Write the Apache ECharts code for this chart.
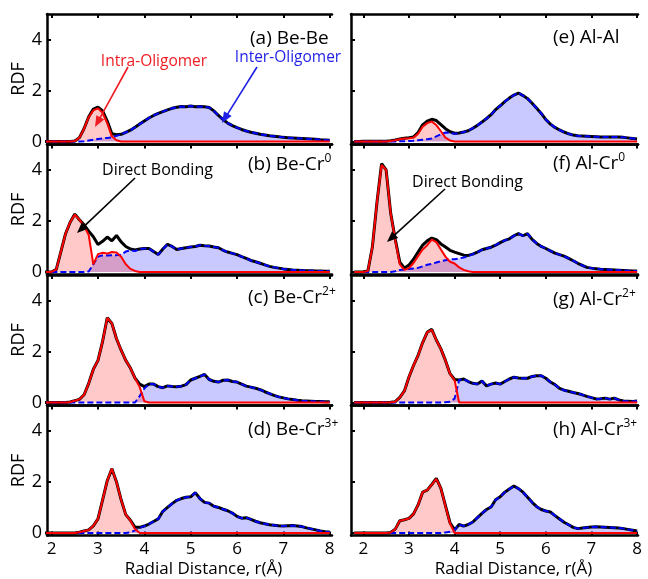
<!DOCTYPE html>
<html><head><meta charset="utf-8">
<script src="https://cdn.jsdelivr.net/npm/echarts@6/dist/echarts.min.js"></script>
<style>html,body{margin:0;padding:0;background:#fff}#c{width:648px;height:579px}</style>
</head><body><div id="c"></div>
<script>
// radial distance grid (Å)
const r = [1.8,1.9,2.0,2.1,2.2,2.3,2.4,2.5,2.6,2.7,
 2.8,2.9,3.0,3.1,3.2,3.3,3.4,3.5,3.6,3.7,
 3.8,3.9,4.0,4.1,4.2,4.3,4.4,4.5,4.6,4.7,
 4.8,4.9,5.0,5.1,5.2,5.3,5.4,5.5,5.6,5.7,
 5.8,5.9,6.0,6.1,6.2,6.3,6.4,6.5,6.6,6.7,
 6.8,6.9,7.0,7.1,7.2,7.3,7.4,7.5,7.6,7.7,
 7.8,7.9,8.0];
const xTicks = [2,3,4,5,6,7,8];
const yTicks = [0,2,4];
const titles = ['(a) Be-Be','(b) Be-Cr','(c) Be-Cr','(d) Be-Cr','(e) Al-Al','(f) Al-Cr','(g) Al-Cr','(h) Al-Cr'];
const sups = ['','0','2+','3+','','0','2+','3+'];

// (a) Be-Be
const intraA = [0,0,0,0,0,0,0,0.02,0.15,0.5,
 0.95,1.22,1.3,1.12,0.72,0.2,0.05,0,0,0,
 0,0,0,0,0,0,0,0,0,0, 0,0,0,0,0,0,0,0,0,0, 0,0,0,0,0,0,0,0,0,0, 0,0,0,0,0,0,0,0,0,0, 0,0,0];
const interA = [0,0,0,0,0,0,0,0,0,0.01,
 0.04,0.07,0.1,0.12,0.14,0.16,0.22,0.28,0.36,0.44,
 0.56,0.68,0.8,0.92,1.02,1.1,1.17,1.24,1.3,1.34,
 1.37,1.36,1.39,1.36,1.37,1.36,1.33,1.2,1.02,0.86,
 0.72,0.62,0.54,0.47,0.41,0.36,0.32,0.28,0.25,0.22,
 0.2,0.18,0.16,0.15,0.14,0.13,0.12,0.11,0.1,0.09,
 0.07,0.06,0.05];
const totalA = [0,0,0,0,0,0,0,0.02,0.15,0.51,
 0.97,1.27,1.35,1.2,0.8,0.3,0.26,0.28,0.36,0.44,
 0.56,0.68,0.8,0.92,1.02,1.1,1.17,1.24,1.3,1.34,
 1.37,1.36,1.39,1.36,1.37,1.36,1.33,1.2,1.02,0.86,
 0.72,0.62,0.54,0.47,0.41,0.36,0.32,0.28,0.25,0.22,
 0.2,0.18,0.16,0.15,0.14,0.13,0.12,0.11,0.1,0.09,
 0.07,0.06,0.05];

// (b) Be-Cr0
const intraB = [0,0,0,0.1,0.8,1.5,1.95,2.25,2.05,1.8,
 1.45,0.3,0.7,0.75,0.72,0.78,0.76,0.6,0.3,0.12,
 0.04,0,0,0,0,0,0,0,0,0, 0,0,0,0,0,0,0,0,0,0, 0,0,0,0,0,0,0,0,0,0, 0,0,0,0,0,0,0,0,0,0, 0,0,0];
const interB = [0,0,0,0,0,0,0,0,0,0,
 0.02,0.3,0.6,0.65,0.65,0.66,0.66,0.68,0.8,0.85,
 0.82,0.9,0.92,0.92,0.8,0.68,0.9,1.08,1.0,0.88,
 0.92,0.95,0.98,1.0,1.05,1.03,1.02,0.98,0.95,0.85,
 0.78,0.73,0.68,0.6,0.53,0.45,0.4,0.34,0.28,0.22,
 0.18,0.15,0.12,0.1,0.08,0.07,0.06,0.05,0.05,0.04,
 0.04,0.03,0.03];
const totalB = [0,0,0,0.1,0.8,1.5,1.95,2.27,2.05,1.85,
 1.6,1.38,1.08,1.2,1.37,1.22,1.43,1.18,1.0,0.9,
 0.86,0.9,0.92,0.92,0.8,0.68,0.9,1.08,1.0,0.88,
 0.92,0.95,0.98,1.0,1.05,1.03,1.02,0.98,0.95,0.85,
 0.78,0.73,0.68,0.6,0.53,0.45,0.4,0.34,0.28,0.22,
 0.18,0.15,0.12,0.1,0.08,0.07,0.06,0.05,0.05,0.04,
 0.04,0.03,0.03];

// (c) Be-Cr2+
const intraC = [0,0,0,0,0,0,0.02,0.07,0.12,0.3,
 0.75,1.3,1.65,2.4,3.32,3.1,2.5,2.05,1.65,1.35,
 0.95,0.6,0.05,0,0,0,0,0,0,0, 0,0,0,0,0,0,0,0,0,0, 0,0,0,0,0,0,0,0,0,0, 0,0,0,0,0,0,0,0,0,0, 0,0,0];
const interC = [0,0,0,0,0,0,0,0,0,0,
 0,0,0,0,0,0,0,0,0,0,
 0,0.25,0.55,0.72,0.72,0.62,0.58,0.65,0.63,0.62,
 0.64,0.7,0.88,0.95,1.02,1.1,0.9,0.83,0.8,0.87,
 0.88,0.82,0.8,0.72,0.64,0.6,0.56,0.5,0.42,0.35,
 0.28,0.22,0.18,0.14,0.12,0.09,0.07,0.06,0.05,0.04,
 0.04,0.03,0.03];
const totalC = [0,0,0,0,0,0,0.02,0.07,0.12,0.3,
 0.75,1.3,1.65,2.4,3.32,3.1,2.5,2.05,1.65,1.35,
 0.95,0.72,0.62,0.72,0.72,0.62,0.58,0.65,0.63,0.62,
 0.64,0.7,0.88,0.95,1.02,1.1,0.9,0.83,0.8,0.87,
 0.88,0.82,0.8,0.72,0.64,0.6,0.56,0.5,0.42,0.35,
 0.28,0.22,0.18,0.14,0.12,0.09,0.07,0.06,0.05,0.04,
 0.04,0.03,0.03];

// (d) Be-Cr3+
const intraD = [0,0,0,0,0,0,0,0,0.03,0.08,
 0.12,0.28,0.55,1.3,2.05,2.52,2.0,1.3,0.72,0.48,
 0.15,0,0,0,0,0,0,0,0,0, 0,0,0,0,0,0,0,0,0,0, 0,0,0,0,0,0,0,0,0,0, 0,0,0,0,0,0,0,0,0,0, 0,0,0];
const interD = [0,0,0,0,0,0,0,0,0,0,
 0,0,0,0,0,0,0,0,0,0.02,
 0.1,0.2,0.27,0.35,0.45,0.55,0.85,1.0,1.15,1.28,
 1.35,1.4,1.42,1.58,1.35,1.2,1.17,1.05,1.0,0.93,
 0.87,0.78,0.65,0.58,0.6,0.53,0.46,0.4,0.36,0.32,
 0.3,0.28,0.27,0.28,0.29,0.27,0.25,0.2,0.16,0.12,
 0.08,0.05,0.04];
const totalD = [0,0,0,0,0,0,0,0,0.03,0.08,
 0.12,0.28,0.55,1.3,2.05,2.52,2.0,1.3,0.72,0.5,
 0.22,0.22,0.27,0.35,0.45,0.55,0.85,1.0,1.15,1.28,
 1.35,1.4,1.42,1.58,1.35,1.2,1.17,1.05,1.0,0.93,
 0.87,0.78,0.65,0.58,0.6,0.53,0.46,0.4,0.36,0.32,
 0.3,0.28,0.27,0.28,0.29,0.27,0.25,0.2,0.16,0.12,
 0.08,0.05,0.04];

// (e) Al-Al
const intraE = [0,0,0,0,0,0,0,0,0.02,0.05,
 0.09,0.12,0.13,0.15,0.3,0.58,0.72,0.78,0.64,0.4,
 0.15,0.04,0,0,0,0,0,0,0,0, 0,0,0,0,0,0,0,0,0,0, 0,0,0,0,0,0,0,0,0,0, 0,0,0,0,0,0,0,0,0,0, 0,0,0];
const interE = [0,0,0,0,0,0,0,0,0,0,
 0.01,0.01,0.02,0.03,0.05,0.07,0.09,0.12,0.2,0.28,
 0.35,0.34,0.3,0.32,0.37,0.42,0.52,0.63,0.76,0.9,
 1.05,1.25,1.4,1.56,1.7,1.82,1.9,1.8,1.68,1.5,
 1.3,1.1,0.86,0.68,0.55,0.45,0.37,0.3,0.25,0.22,
 0.21,0.2,0.19,0.18,0.17,0.17,0.17,0.17,0.17,0.16,
 0.14,0.12,0.1];
const totalE = [0,0,0.01,0.01,0.01,0.01,0.01,0.01,0.03,0.06,
 0.1,0.13,0.15,0.18,0.35,0.65,0.8,0.87,0.82,0.66,
 0.5,0.38,0.32,0.33,0.37,0.42,0.52,0.63,0.76,0.9,
 1.05,1.25,1.4,1.56,1.7,1.82,1.9,1.8,1.68,1.5,
 1.3,1.1,0.86,0.68,0.55,0.45,0.37,0.3,0.25,0.22,
 0.21,0.2,0.19,0.18,0.17,0.17,0.17,0.17,0.17,0.16,
 0.14,0.12,0.1];

// (f) Al-Cr0
const intraF = [0,0,0,0.04,1.0,2.75,4.2,4.0,2.3,1.25,
 0.3,0.08,0.15,0.35,0.62,0.88,1.05,1.27,1.17,0.88,
 0.6,0.4,0.33,0.18,0.08,0.03,0,0,0,0, 0,0,0,0,0,0,0,0,0,0, 0,0,0,0,0,0,0,0,0,0, 0,0,0,0,0,0,0,0,0,0, 0,0,0];
const interF = [0,0,0,0,0,0,0,0,0,0.03,
 0.08,0.1,0.12,0.14,0.16,0.22,0.28,0.32,0.37,0.42,
 0.46,0.49,0.5,0.53,0.57,0.62,0.7,0.78,0.87,0.92,
 0.97,1.05,1.15,1.24,1.3,1.42,1.5,1.42,1.5,1.28,
 1.12,1.0,0.92,0.83,0.74,0.68,0.62,0.53,0.44,0.34,
 0.26,0.18,0.15,0.13,0.11,0.1,0.09,0.08,0.07,0.06,
 0.05,0.04,0.04];
const totalF = [0,0,0.01,0.04,1.0,2.75,4.25,4.0,2.3,1.28,
 0.38,0.15,0.27,0.5,0.78,1.05,1.22,1.33,1.27,1.1,
 0.98,0.85,0.78,0.72,0.66,0.65,0.7,0.78,0.87,0.92,
 0.97,1.05,1.15,1.24,1.3,1.42,1.5,1.42,1.5,1.28,
 1.12,1.0,0.92,0.83,0.74,0.68,0.62,0.53,0.44,0.34,
 0.26,0.18,0.15,0.13,0.11,0.1,0.09,0.08,0.07,0.06,
 0.05,0.04,0.04];

// (g) Al-Cr2+
const intraG = [0,0,0,0,0,0,0,0,0.01,0.03,
 0.2,0.45,1.0,1.45,1.85,2.35,2.75,2.85,2.45,2.1,
 1.65,1.12,0.88,0,0,0,0,0,0,0, 0,0,0,0,0,0,0,0,0,0, 0,0,0,0,0,0,0,0,0,0, 0,0,0,0,0,0,0,0,0,0, 0,0,0];
const interG = [0,0,0,0,0,0,0,0,0,0,
 0,0,0,0,0,0,0,0,0,0,
 0.01,0.03,0.15,0.88,0.92,0.82,0.75,0.72,0.84,0.65,
 0.72,0.76,0.72,0.82,0.92,0.99,0.96,0.95,0.95,1.02,
 1.05,1.05,0.95,0.8,0.7,0.55,0.48,0.44,0.39,0.35,
 0.3,0.24,0.19,0.14,0.15,0.17,0.13,0.17,0.1,0.06,
 0.05,0.04,0.06];
const totalG = [0,0,0,0,0,0,0,0,0.01,0.03,
 0.2,0.45,1.0,1.45,1.85,2.35,2.75,2.87,2.45,2.1,
 1.65,1.13,0.9,0.88,0.92,0.82,0.75,0.72,0.84,0.65,
 0.72,0.76,0.72,0.82,0.92,0.99,0.96,0.95,0.95,1.02,
 1.05,1.05,0.95,0.8,0.7,0.55,0.48,0.44,0.39,0.35,
 0.3,0.24,0.19,0.14,0.15,0.17,0.13,0.17,0.1,0.06,
 0.05,0.04,0.06];

// (h) Al-Cr3+
const intraH = [0,0,0,0,0,0,0,0,0.02,0.15,
 0.48,0.52,0.57,0.75,1.1,1.6,1.68,1.9,2.12,1.75,
 1.05,0.37,0,0,0,0,0,0,0,0, 0,0,0,0,0,0,0,0,0,0, 0,0,0,0,0,0,0,0,0,0, 0,0,0,0,0,0,0,0,0,0, 0,0,0];
const interH = [0,0,0,0,0,0,0,0,0,0,
 0,0,0,0,0,0,0,0,0,0,
 0.02,0.05,0.12,0.33,0.27,0.33,0.43,0.6,0.77,0.92,
 1.02,1.3,1.42,1.6,1.72,1.84,1.74,1.6,1.4,1.2,
 1.03,0.92,0.86,0.82,0.68,0.55,0.42,0.32,0.22,0.17,
 0.19,0.21,0.23,0.24,0.23,0.22,0.21,0.2,0.19,0.17,
 0.14,0.11,0.08];
const totalH = [0,0,0,0,0,0,0,0,0.02,0.15,
 0.48,0.52,0.57,0.75,1.1,1.6,1.68,1.9,2.14,1.75,
 1.07,0.4,0.12,0.33,0.27,0.33,0.43,0.6,0.77,0.92,
 1.02,1.3,1.42,1.6,1.72,1.84,1.74,1.6,1.4,1.2,
 1.03,0.92,0.86,0.82,0.68,0.55,0.42,0.32,0.22,0.17,
 0.19,0.21,0.23,0.24,0.23,0.22,0.21,0.2,0.19,0.17,
 0.14,0.11,0.08];

const intraAll = [intraA,intraB,intraC,intraD,intraE,intraF,intraG,intraH];
const interAll = [interA,interB,interC,interD,interE,interF,interG,interH];
const totalAll = [totalA,totalB,totalC,totalD,totalE,totalF,totalG,totalH];

const FONT = 'Open Sans';
const tops = [14, 144.5, 275, 405.5];
const colGeom = [{left:47, width:285, min:1.9, max:8.05}, {left:351, width:287, min:1.73, max:8.02}];

const grid = [], xAxis = [], yAxis = [], series = [];
for (let i = 0; i < 8; i++) {
  const col = Math.floor(i / 4), row = i % 4, g = colGeom[col];
  const bottomRow = row === 3;
  grid.push({left:g.left, width:g.width, top:tops[row], height:130, containLabel:false, outerBoundsMode:'none'});
  const lineS = {show:true, onZero:false, lineStyle:{color:'#000', width:2.5}};
  xAxis.push({gridIndex:i, type:'value', position:'bottom', min:g.min, max:g.max,
    axisLine:lineS,
    axisTick:{show:bottomRow, inside:true, length:4, customValues:xTicks, lineStyle:{color:'#000', width:2}},
    axisLabel:{show:bottomRow, customValues:xTicks, fontSize:17, color:'#000', margin:5, fontFamily:FONT},
    splitLine:{show:false}});
  xAxis.push({gridIndex:i, type:'value', position:'top', min:g.min, max:g.max,
    axisLine:lineS,
    axisTick:{show:true, inside:true, length:4, customValues:xTicks, lineStyle:{color:'#000', width:2}},
    axisLabel:{show:false}, splitLine:{show:false}});
  yAxis.push({gridIndex:i, type:'value', min:-0.1, max:5,
    axisLine:lineS,
    axisTick:{show:true, inside:true, length:4, customValues:yTicks, lineStyle:{color:'#000', width:2}},
    axisLabel:{show:col===0, customValues:yTicks, fontSize:18, color:'#000', margin:5, fontFamily:FONT},
    name: col===0 ? 'RDF' : '', nameLocation:'middle', nameGap:13, nameRotate:90,
    nameTextStyle:{fontSize:18, color:'#000', fontFamily:FONT},
    splitLine:{show:false}});
  const pts = arr => r.map((x, k) => [x, arr[k]]);
  const base = {type:'line', xAxisIndex:2*i, yAxisIndex:i, showSymbol:false, symbol:'none', smooth:false, silent:true, clip:true};
  series.push(Object.assign({}, base, {data:pts(interAll[i]), lineStyle:{width:0, opacity:0}, areaStyle:{color:'rgba(0,0,255,0.3)'}, z:1}));
  series.push(Object.assign({}, base, {data:pts(intraAll[i]), lineStyle:{width:0, opacity:0}, areaStyle:{color:'rgba(255,0,0,0.3)'}, z:1}));
  series.push(Object.assign({}, base, {data:pts(totalAll[i]), lineStyle:{width:3, color:'#000'}, z:2}));
  series.push(Object.assign({}, base, {data:pts(interAll[i]), lineStyle:{width:2, color:'#0000ff', type:[6,3]}, z:3}));
  series.push(Object.assign({}, base, {data:pts(intraAll[i]), lineStyle:{width:2, color:'#ff0000'}, z:4}));
}

// annotations
const graphic = [];
function txt(x, y, text, size, color, align) {
  graphic.push({type:'text', x:x, y:y, z:100, silent:true,
    style:{text:text, fontSize:size, fontFamily:FONT, fill:color, align:align||'center', verticalAlign:'middle', textAlign:align||'center', textVerticalAlign:'middle'}});
}
function arrow(x1, y1, x2, y2, color) {
  const dx = x2 - x1, dy = y2 - y1, len = Math.sqrt(dx*dx + dy*dy);
  const ux = dx/len, uy = dy/len, L = 11, W = 4.5;
  const bx = x2 - ux*L, by = y2 - uy*L;
  graphic.push({type:'line', z:100, silent:true, shape:{x1:x1, y1:y1, x2:bx + ux*2, y2:by + uy*2}, style:{stroke:color, lineWidth:1.6}});
  graphic.push({type:'polygon', z:100, silent:true, shape:{points:[[x2,y2],[bx - uy*W, by + ux*W],[bx + uy*W, by - ux*W]]}, style:{fill:color}});
}
const labelPos = [[250,39],[248,165],[248,298],[248,430],[553,38],[553,164],[553,300],[553,430]];
for (let i = 0; i < 8; i++) {
  graphic.push({type:'text', x:labelPos[i][0], y:labelPos[i][1], z:100, silent:true,
    style:{text: sups[i] ? '{m|' + titles[i] + '}{s|' + sups[i] + '}' : '{m|' + titles[i] + '}',
      align:'left', verticalAlign:'middle', textAlign:'left', textVerticalAlign:'middle',
      rich:{m:{fontSize:19, fontFamily:FONT, fill:'#000', lineHeight:24}, s:{fontSize:12, fontFamily:FONT, fill:'#000', verticalAlign:'top', lineHeight:14}}}});
}
txt(154, 62, 'Intra-Oligomer', 15.5, '#ee1c24');
txt(288, 58, 'Inter-Oligomer', 15.5, '#1f1fe6');
arrow(128, 67, 95, 127, '#ee1c24');
arrow(257, 67, 222, 123, '#1f1fe6');
txt(157.5, 170, 'Direct Bonding', 16, '#000');
arrow(135, 178, 77, 233, '#000');
txt(467.5, 182, 'Direct Bonding', 16, '#000');
arrow(445, 189, 387, 242, '#000');
txt(203.5, 569, 'Radial Distance, r(Å)', 17, '#000');
txt(513.5, 569, 'Radial Distance, r(Å)', 17, '#000');

const chart = echarts.init(document.getElementById('c'), null, {renderer:'canvas'});
chart.setOption({animation:false, backgroundColor:'#fff', grid, xAxis, yAxis, series, graphic});
</script>
</body></html>
